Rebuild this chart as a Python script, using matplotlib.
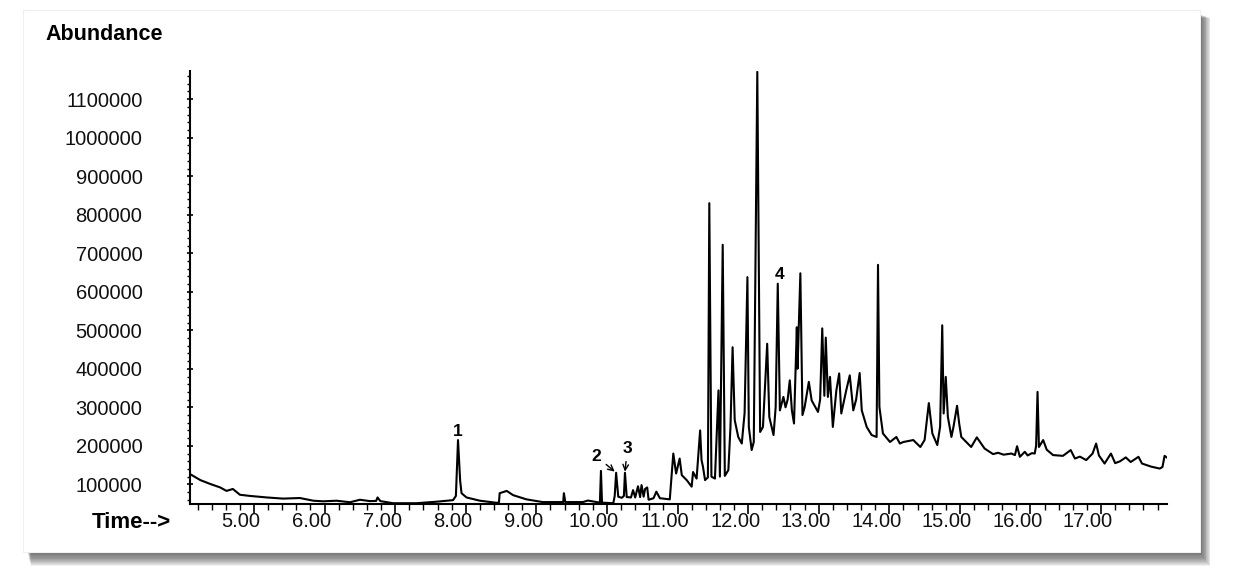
import numpy as np
import matplotlib
matplotlib.use("Agg")
import matplotlib.pyplot as plt
import matplotlib.transforms as mtransforms
from matplotlib.patches import Rectangle

# Chromatogramm (Zeit in min, Abundanz)
zeit = [4.09, 4.24, 4.38, 4.52, 4.61, 4.70, 4.80, 4.94, 5.18, 5.41,
        5.65, 5.84, 5.98, 6.17, 6.36, 6.50, 6.64, 6.73, 6.75, 6.79,
        6.97, 7.30, 7.59, 7.82, 7.86, 7.89, 7.92, 7.94, 8.01, 8.20,
        8.44, 8.47, 8.48, 8.58, 8.67, 8.86, 9.09, 9.38, 9.39, 9.41,
        9.66, 9.73, 9.90, 9.915, 9.93, 10.09, 10.11, 10.13, 10.16, 10.21,
        10.24, 10.255, 10.28, 10.34, 10.37, 10.40, 10.44, 10.47, 10.49, 10.52,
        10.54, 10.57, 10.59, 10.66, 10.70, 10.75, 10.89, 10.94, 10.98, 11.03,
        11.06, 11.13, 11.20, 11.22, 11.27, 11.32, 11.34, 11.36, 11.39, 11.43,
        11.45, 11.48, 11.53, 11.58, 11.60, 11.64, 11.67, 11.72, 11.75, 11.78,
        11.81, 11.86, 11.91, 11.95, 11.99, 12.01, 12.05, 12.08, 12.13, 12.17,
        12.21, 12.27, 12.30, 12.36, 12.39, 12.42, 12.45, 12.50, 12.53, 12.56,
        12.59, 12.62, 12.65, 12.69, 12.70, 12.74, 12.77, 12.80, 12.86, 12.90,
        12.95, 12.99, 13.02, 13.05, 13.08, 13.10, 13.13, 13.16, 13.20, 13.25,
        13.29, 13.32, 13.39, 13.44, 13.49, 13.53, 13.58, 13.61, 13.68, 13.75,
        13.82, 13.84, 13.86, 13.91, 14.01, 14.10, 14.15, 14.20, 14.34, 14.44,
        14.50, 14.56, 14.61, 14.68, 14.72, 14.75, 14.77, 14.80, 14.83, 14.88,
        14.91, 14.96, 14.99, 15.02, 15.09, 15.16, 15.24, 15.35, 15.47, 15.54,
        15.62, 15.73, 15.78, 15.81, 15.85, 15.92, 15.96, 16.02, 16.06, 16.08,
        16.10, 16.12, 16.18, 16.23, 16.32, 16.46, 16.57, 16.63, 16.70, 16.79,
        16.88, 16.93, 16.97, 17.05, 17.14, 17.20, 17.27, 17.35, 17.42, 17.53,
        17.58, 17.71, 17.83, 17.87, 17.90, 17.93]
abundanz = [127000, 111000, 101000, 92000, 83000, 88000, 73000, 70000, 66000, 63000,
            64500, 57500, 56000, 57500, 53500, 60000, 56500, 57000, 66000, 56500,
            51000, 51000, 55000, 59000, 70000, 215000, 110000, 77000, 66000, 57500,
            52000, 53000, 77000, 83000, 72000, 61000, 54000, 54000, 77000, 54000,
            54000, 58000, 52500, 135000, 52500, 51000, 70000, 130000, 68000, 65000,
            70000, 130000, 67000, 66000, 85000, 66000, 95000, 67000, 98000, 68000,
            88000, 92000, 60000, 64000, 81000, 64000, 61000, 180000, 128000, 167000,
            124000, 111000, 94000, 132000, 115000, 240000, 163000, 146000, 111000, 118000,
            830000, 120000, 115000, 344000, 120000, 722000, 122000, 137000, 250000, 456000,
            267000, 223000, 206000, 285000, 638000, 249000, 189000, 210000, 1171000, 236000,
            249000, 465000, 275000, 228000, 300000, 621000, 292000, 327000, 300000, 320000,
            370000, 292000, 258000, 508000, 400000, 648000, 280000, 300000, 366000, 318000,
            301000, 288000, 320000, 505000, 330000, 481000, 327000, 379000, 249000, 344000,
            388000, 284000, 344000, 383000, 292000, 320000, 389000, 292000, 249000, 228000,
            223000, 670000, 301000, 232000, 210000, 223000, 206000, 210000, 215000, 197000,
            215000, 311000, 232000, 202000, 250000, 513000, 284000, 379000, 275000, 223000,
            250000, 304000, 258000, 223000, 210000, 197000, 222000, 193000, 178500, 182000,
            177000, 180000, 176000, 199000, 171500, 184500, 175000, 181000, 180000, 200000,
            340000, 197000, 215000, 190000, 176000, 174000, 189000, 167000, 172000, 163000,
            180000, 206000, 175000, 154000, 180000, 155000, 160000, 170000, 158000, 171500,
            154000, 146000, 141000, 145000, 174000, 170000]

# Peak-Beschriftungen: (Text, Zeit, Abundanz)
peak_labels = [("1", 7.89, 236000), ("4", 12.44, 645000)]
peak_pfeile = [("2", 9.85, 173000, 10.11, 133000), ("3", 10.29, 193000, 10.255, 133000)]

W, H = 1248, 588
fig = plt.figure(figsize=(W / 100, H / 100), dpi=100)
fig.patch.set_facecolor("white")


def box(x0, y0, x1, y1, **kw):
    # Rechteck in Pixelkoordinaten (y von oben)
    r = Rectangle((x0 / W, 1 - y1 / H), (x1 - x0) / W, (y1 - y0) / H,
                  transform=fig.transFigure, **kw)
    fig.patches.append(r)
    return r


# Schatten und weisser Rahmen
for k in range(14):
    box(27 + k * 0.3, 14 + k * 0.3, 1200 + k * 0.8, 552 + k * 1.1, facecolor="black",
        edgecolor="none", alpha=0.06, zorder=-3)
box(23, 10, 1200, 552, facecolor="white", edgecolor="#f0f0f0", lw=0.8, zorder=-2)

ax = fig.add_axes([190 / W, 1 - 504.3 / H, (1166.7 - 190) / W, (504.3 - 70.7) / H])
ax.patch.set_alpha(0)
ax.plot(zeit, abundanz, color="black", lw=1.5)

ax.set_xlim(4.093, 17.93)
ax.set_ylim(48200, 1174000)

for s in ["top", "right"]:
    ax.spines[s].set_visible(False)
ax.spines["left"].set_linewidth(1.5)
ax.spines["bottom"].set_linewidth(1.5)

xt = np.arange(5, 18, 1.0)
ax.set_xticks(xt)
ax.set_xticklabels(["%.2f" % v for v in xt])
ax.set_xticks(np.arange(4.2, 17.9, 0.2), minor=True)
yt = np.arange(100000, 1100001, 100000)
ax.set_yticks(yt)
ax.set_yticklabels([str(v) for v in yt])
ax.set_yticks(np.arange(60000, 1174000, 20000), minor=True)

ax.tick_params(axis="x", which="major", direction="out", length=7.2, width=1.2,
               pad=-2, labelsize=14.5)
ax.tick_params(axis="x", which="minor", direction="out", length=4.3, width=1.0)
ax.tick_params(axis="y", which="major", direction="inout", length=4.5, width=1.2,
               pad=32, labelsize=14.5)
ax.tick_params(axis="y", which="minor", direction="out", length=2.2, width=1.0)

schrift = ["Liberation Sans", "DejaVu Sans"]
verschub = mtransforms.ScaledTranslation(-0.13, 0, fig.dpi_scale_trans)
for lab in ax.get_xticklabels():
    lab.set_family(schrift)
    lab.set_color("#111111")
    lab.set_transform(lab.get_transform() + verschub)
for lab in ax.get_yticklabels():
    lab.set_family(schrift)
    lab.set_color("#111111")

fig.text(45 / W, 1 - 34 / H, "Abundance", family=schrift, fontweight="bold",
         fontsize=15.5, ha="left", va="center")
fig.text(171 / W, 1 - 522 / H, "Time-->", family=schrift, fontweight="bold",
         fontsize=16, ha="right", va="center")

for txt, t, a in peak_labels:
    ax.text(t, a, txt, family=schrift, fontweight="bold", fontsize=12.5,
            ha="center", va="center")
for txt, t, a, tp, ap in peak_pfeile:
    ax.annotate(txt, xy=(tp, ap), xytext=(t, a), family=schrift, fontweight="bold",
                fontsize=12.5, ha="center", va="center",
                arrowprops=dict(arrowstyle="->", lw=1.0, color="black",
                                shrinkA=2, shrinkB=0, mutation_scale=10))

fig.savefig("out.png", dpi=100, facecolor="white")
